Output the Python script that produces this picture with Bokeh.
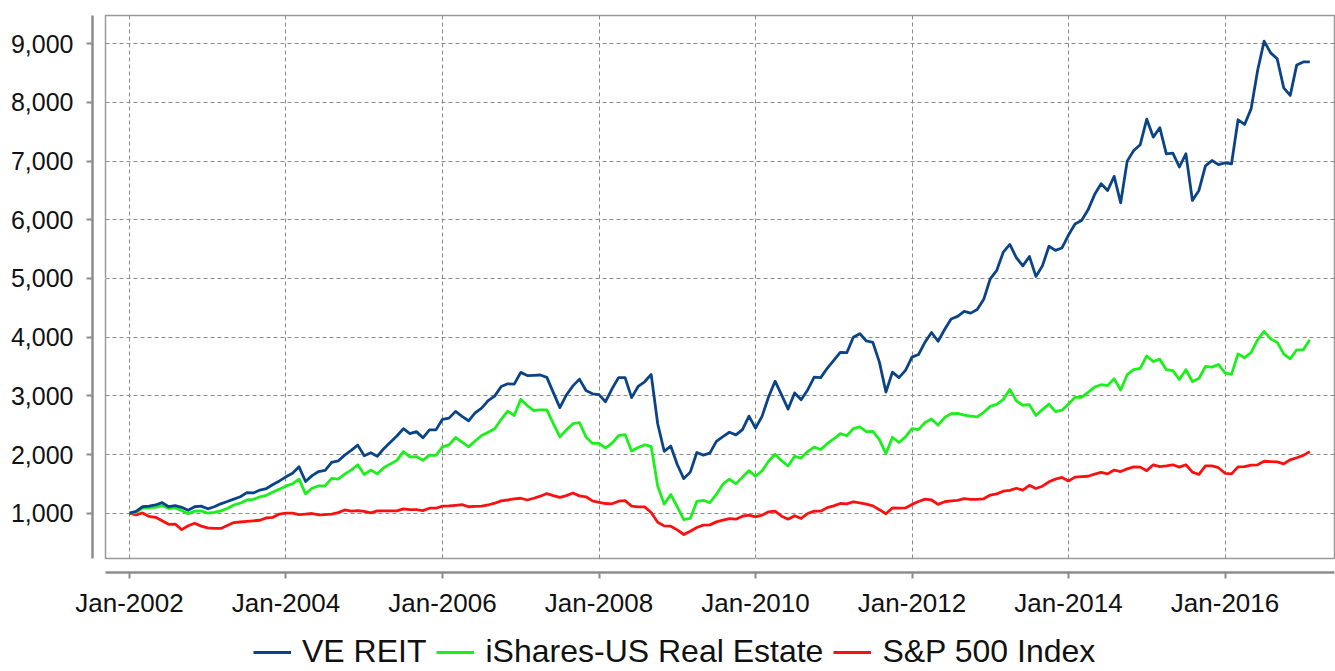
from bokeh.plotting import figure
from bokeh.layouts import column
from bokeh.models import (Range1d, LinearAxis, FixedTicker, Grid, Legend, LegendItem,
                          NumeralTickFormatter, ColumnDataSource)
from bokeh.embed import file_html
from bokeh.resources import INLINE

# Monthly observations, Jan-2002 .. Feb-2017 (index 0 = Jan-2002)
ve_reit = [
    1000, 1030, 1110, 1120, 1140, 1180, 1110, 1130, 1100, 1050, 1110, 1120,
    1075, 1110, 1160, 1200, 1240, 1280, 1350, 1345, 1395, 1420, 1490, 1550,
    1620, 1680, 1790, 1540, 1640, 1710, 1730, 1865, 1890, 1990, 2070, 2160,
    1980, 2030, 1970, 2100, 2210, 2315, 2440, 2355, 2390, 2285, 2420, 2420,
    2600, 2620, 2735, 2650, 2575, 2710, 2790, 2920, 2995, 3160, 3205, 3200,
    3400, 3345, 3350, 3355, 3315, 3055, 2800, 3015, 3170, 3285, 3090, 3035,
    3020, 2900, 3120, 3310, 3310, 2970, 3160, 3240, 3365, 2525, 2055, 2145,
    1830, 1590, 1700, 2035, 1990, 2025, 2225, 2305, 2380, 2335, 2425, 2655,
    2450, 2650, 2980, 3250, 3015, 2775, 3050, 2935, 3100, 3320, 3310, 3470,
    3605, 3740, 3735, 4000, 4060, 3935, 3910, 3575, 3065, 3405, 3310, 3435,
    3660, 3705, 3915, 4080, 3930, 4130, 4310, 4355, 4440, 4410, 4470, 4645,
    4995, 5140, 5450, 5580, 5355, 5215, 5375, 5035, 5215, 5550, 5480, 5520,
    5740, 5930, 5990, 6170, 6430, 6615, 6500, 6740, 6290, 7000, 7180, 7280,
    7715, 7410, 7570, 7125, 7135, 6900, 7125, 6330, 6500, 6920, 7010, 6940,
    6970, 6955, 7705, 7625, 7890, 8545, 9045, 8845, 8745, 8250, 8120, 8640,
    8690, 8690,
]
ishares_us_real_estate = [
    1000, 1010, 1085, 1095, 1100, 1130, 1080, 1090, 1045, 990, 1035, 1040,
    1000, 1015, 1040, 1080, 1140, 1170, 1225, 1235, 1280, 1305, 1360, 1410,
    1465, 1500, 1580, 1330, 1425, 1465, 1465, 1595, 1580, 1665, 1735, 1825,
    1660, 1735, 1670, 1775, 1840, 1900, 2050, 1960, 1965, 1900, 1990, 1985,
    2130, 2165, 2290, 2210, 2130, 2230, 2325, 2380, 2440, 2600, 2740, 2665,
    2940, 2835, 2750, 2760, 2760, 2525, 2300, 2420, 2525, 2545, 2300, 2190,
    2190, 2110, 2195, 2320, 2340, 2060, 2120, 2165, 2140, 1465, 1155, 1320,
    1110, 890, 910, 1200, 1220, 1180, 1320, 1495, 1580, 1500, 1615, 1725,
    1630, 1720, 1885, 2005, 1895, 1805, 1970, 1940, 2050, 2125, 2085, 2185,
    2265, 2355, 2320, 2440, 2470, 2390, 2395, 2255, 2015, 2295, 2205, 2300,
    2440, 2425, 2545, 2605, 2500, 2630, 2695, 2700, 2670, 2655, 2640, 2720,
    2820, 2855, 2940, 3110, 2915, 2840, 2850, 2665, 2765, 2860, 2730, 2755,
    2860, 2975, 2975, 3060, 3150, 3190, 3175, 3290, 3100, 3360, 3445, 3470,
    3680, 3585, 3625, 3445, 3430, 3280, 3445, 3245, 3295, 3500, 3490, 3535,
    3390, 3365, 3715, 3650, 3735, 3955, 4100, 3970, 3915, 3715, 3630, 3785,
    3785, 3955,
]
sp500_index = [
    1000, 970, 1005, 945, 930, 870, 810, 815, 720, 785, 830, 780,
    750, 740, 740, 790, 840, 850, 860, 870, 880, 920, 930, 985,
    1000, 1000, 975, 985, 995, 970, 975, 985, 1010, 1055, 1035, 1045,
    1030, 1005, 1040, 1040, 1040, 1040, 1075, 1060, 1060, 1045, 1085, 1085,
    1120, 1125, 1135, 1145, 1110, 1115, 1120, 1140, 1170, 1210, 1225, 1245,
    1255, 1225, 1255, 1290, 1335, 1300, 1270, 1300, 1345, 1295, 1280, 1210,
    1185, 1165, 1160, 1204, 1215, 1120, 1108, 1108, 1011, 847, 784, 779,
    716, 637, 694, 756, 796, 801, 852, 881, 909, 898, 949, 966,
    938, 966, 1023, 1034, 949, 898, 958, 910, 995, 1035, 1035, 1095,
    1125, 1165, 1160, 1195, 1175, 1155, 1125, 1060, 990, 1090, 1085, 1090,
    1150, 1200, 1240, 1225, 1150, 1195, 1210, 1220, 1250, 1235, 1235, 1245,
    1310, 1330, 1375, 1390, 1425, 1395, 1475, 1420, 1460, 1535, 1580, 1610,
    1550, 1615, 1625, 1630, 1665, 1695, 1670, 1735, 1710, 1755, 1790, 1785,
    1725, 1825, 1795, 1805, 1825, 1785, 1825, 1700, 1660, 1805, 1805, 1775,
    1680, 1670, 1790, 1795, 1820, 1825, 1885, 1880, 1875, 1840, 1910, 1945,
    1985, 2050,
]
series_names = ["VE REIT", "iShares-US Real Estate", "S&P 500 Index"]
series_cols = ["ve", "ish", "sp"]
series_colors = ["#0b4486", "#1cf01c", "#fb1010"]

month_index = list(range(len(ve_reit)))
x_tick_positions = [0, 24, 48, 72, 96, 120, 144, 168]
x_tick_labels = ["Jan-2002", "Jan-2004", "Jan-2006", "Jan-2008",
                 "Jan-2010", "Jan-2012", "Jan-2014", "Jan-2016"]
y_ticks = [1000, 2000, 3000, 4000, 5000, 6000, 7000, 8000, 9000]

FONT = "Liberation Sans"
AXIS_GREY = "#8c8c8c"
LINE_W = 2.8

src = ColumnDataSource(dict(x=month_index, ve=ve_reit,
                            ish=ishares_us_real_estate, sp=sp500_index))

p = figure(width=1335, height=620,
           x_range=Range1d(-3.68, 184.79), y_range=Range1d(228, 9482),
           x_axis_location=None, y_axis_location=None,
           output_backend="svg", toolbar_location=None,
           min_border_left=105, min_border_right=1, min_border_top=15,
           min_border_bottom=62, background_fill_color="white",
           border_fill_color="white")
p.center = []
p.outline_line_color = "#9a9a9a"
p.outline_line_width = 1.5

# grids
p.add_layout(Grid(dimension=0, ticker=FixedTicker(ticks=x_tick_positions),
                  grid_line_color="#8a8a8a", grid_line_width=1,
                  grid_line_dash="4 3"), "center")
p.add_layout(Grid(dimension=1, ticker=FixedTicker(ticks=y_ticks),
                  grid_line_color="#8a8a8a", grid_line_width=1,
                  grid_line_dash="4 3"), "center")


def spacer(size, tick):
    # an axis that draws nothing visible; it only reserves a gap between the
    # plot frame and the real (offset) axis
    return LinearAxis(ticker=FixedTicker(ticks=[tick]), major_tick_out=size,
                      major_tick_in=0, axis_line_color=None,
                      major_tick_line_color="white", major_tick_line_width=1,
                      minor_tick_line_color=None, minor_tick_out=0,
                      major_label_overrides={tick: ""},
                      major_label_text_font_size="0px", major_label_standoff=0)


p.add_layout(spacer(13, y_ticks[4]), "left")
p.add_layout(spacer(14, x_tick_positions[4]), "below")

yax = LinearAxis(ticker=FixedTicker(ticks=y_ticks),
                 formatter=NumeralTickFormatter(format="0,0"),
                 axis_line_color=AXIS_GREY, axis_line_width=2.5,
                 major_tick_out=6, major_tick_in=0,
                 major_tick_line_color=AXIS_GREY, major_tick_line_width=2,
                 minor_tick_line_color=None,
                 major_label_text_font=FONT, major_label_text_font_size="25px",
                 major_label_text_color="#111111", major_label_standoff=13)
p.add_layout(yax, "left")

xax = LinearAxis(ticker=FixedTicker(ticks=x_tick_positions),
                 major_label_overrides=dict(zip(x_tick_positions, x_tick_labels)),
                 axis_line_color=AXIS_GREY, axis_line_width=2.5,
                 major_tick_out=6, major_tick_in=0,
                 major_tick_line_color=AXIS_GREY, major_tick_line_width=2,
                 minor_tick_line_color=None,
                 major_label_text_font=FONT, major_label_text_font_size="26px",
                 major_label_text_color="#111111", major_label_standoff=9)
p.add_layout(xax, "below")

# draw order: red, green, then blue on top
for col, color in list(zip(series_cols, series_colors))[::-1]:
    p.line("x", col, source=src, line_color=color,
           line_width=LINE_W, line_join="round")

# legend strip below the chart (its lines fall outside this strip's ranges,
# so only the legend swatches show)
leg = figure(width=1335, height=51, x_range=Range1d(-2, -1), y_range=Range1d(0, 1),
             x_axis_location=None, y_axis_location=None,
             output_backend="svg", toolbar_location=None,
             min_border=0, outline_line_color=None,
             background_fill_color="white", border_fill_color="white")
leg.center = []
items = []
for name, col, color in zip(series_names, series_cols, series_colors):
    r = leg.line("x", col, source=src, line_color=color, line_width=LINE_W)
    items.append(LegendItem(label=name, renderers=[r]))

legend = Legend(items=items, orientation="horizontal", location=(148, 1),
                label_text_font=FONT, label_text_font_size="32px",
                label_text_color="#111111",
                glyph_width=38, glyph_height=20, label_standoff=11, spacing=10,
                padding=0, margin=0, border_line_color=None,
                background_fill_alpha=0)
leg.add_layout(legend, "center")

layout = column(p, leg, spacing=0)
open("out.html", "w").write(file_html(layout, INLINE))
